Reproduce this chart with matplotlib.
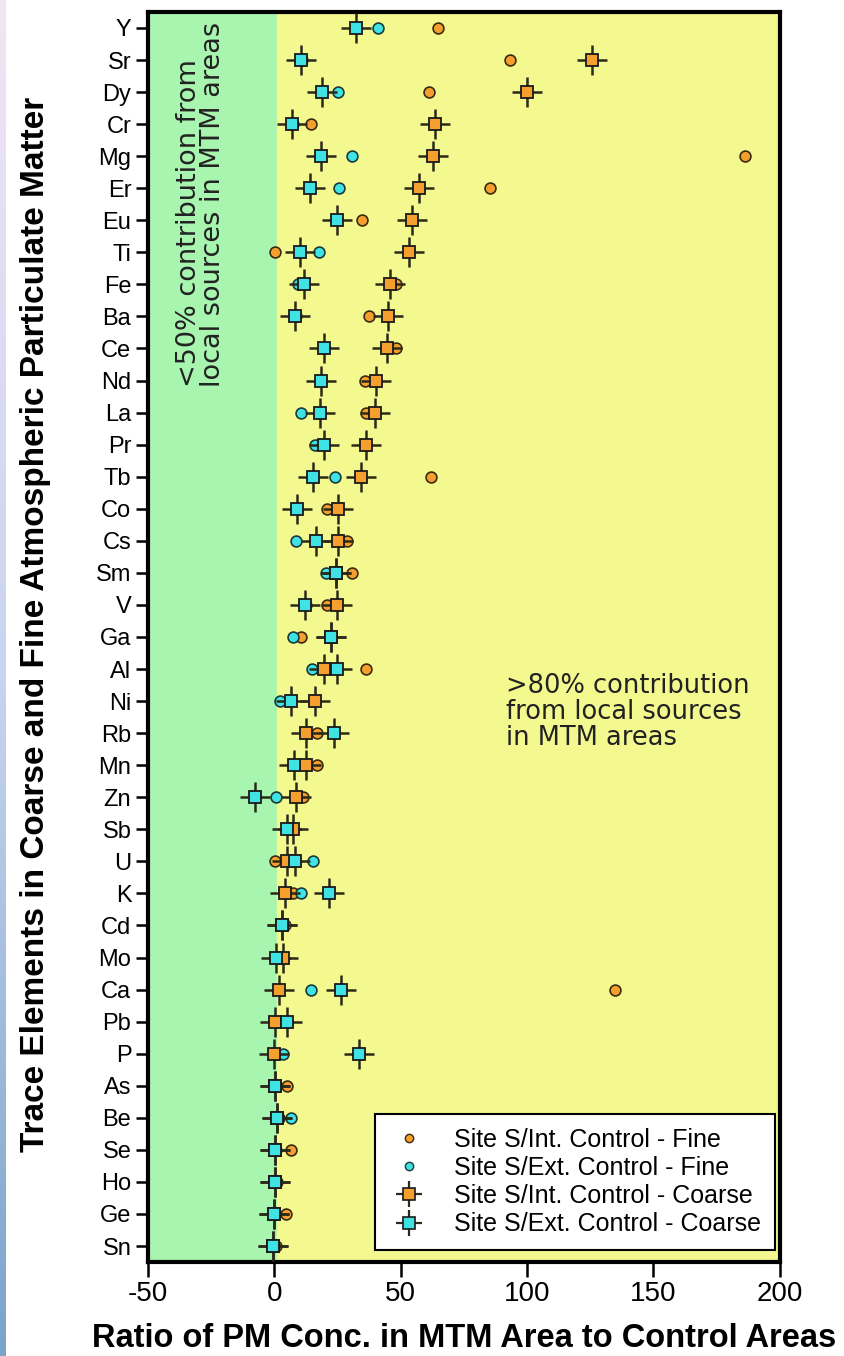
import numpy as np
import matplotlib.pyplot as plt
from matplotlib.lines import Line2D
from matplotlib.legend_handler import HandlerTuple
from matplotlib.colors import LinearSegmentedColormap

# Elements, top to bottom
elements = ["Y", "Sr", "Dy", "Cr", "Mg", "Er", "Eu", "Ti", "Fe", "Ba",
            "Ce", "Nd", "La", "Pr", "Tb", "Co", "Cs", "Sm", "V", "Ga",
            "Al", "Ni", "Rb", "Mn", "Zn", "Sb", "U", "K", "Cd", "Mo",
            "Ca", "Pb", "P", "As", "Be", "Se", "Ho", "Ge", "Sn"]

# Ratios (MTM area / control), fine fraction
int_fine = [64.7, 93.3, 61.1, 14.3, 186.2, 85.4, 34.5, 0.4, 48.0, 37.3,
            48.0, 35.7, 36.1, 36.0, 61.9, 21.0, 28.6, 30.6, 21.0, 10.7,
            36.1, 16.0, 16.7, 16.7, 11.5, 6.0, 0.4, 7.5, 4.0, 3.0,
            134.6, 1.0, 1.5, 4.8, 2.0, 6.4, 1.0, 4.4, 0.5]
ext_fine = [40.9, 11.0, 25.0, 7.5, 30.6, 25.4, 24.5, 17.5, 9.5, 8.5,
            19.5, 18.5, 10.7, 16.0, 23.8, 9.0, 8.7, 20.5, 12.5, 7.5,
            14.7, 2.4, 23.5, 8.0, 0.8, 5.0, 15.1, 10.7, 3.2, 1.0,
            14.3, 5.0, 3.6, 0.5, 6.7, 0.5, 0.5, 0.0, -0.3]

# Ratios, coarse fraction
int_coarse = [np.nan, 125.6, 100.0, 63.5, 62.7, 57.2, 54.4, 53.2, 45.7, 44.9,
              44.5, 40.1, 39.7, 36.1, 34.1, 25.0, 25.0, 24.2, 24.6, 22.2,
              19.5, 15.9, 12.7, 12.7, 8.7, 7.5, 4.8, 4.0, 3.2, 3.6,
              2.0, 0.4, 0.0, 0.4, 1.2, 0.4, 0.4, 0.0, -0.4]
ext_coarse = [32.2, 10.7, 18.7, 7.1, 18.3, 13.9, 24.6, 10.3, 11.9, 8.3,
              19.5, 18.3, 17.9, 19.5, 15.1, 9.1, 16.3, 24.2, 12.3, 22.2,
              24.6, 6.4, 23.4, 7.9, -7.5, 4.8, 8.3, 21.8, 3.2, 0.8,
              26.2, 4.8, 33.3, 0.4, 1.2, 0.4, 0.4, 0.0, -0.4]

labels = ["Site S/Int. Control - Fine", "Site S/Ext. Control - Fine",
          "Site S/Int. Control - Coarse", "Site S/Ext. Control - Coarse"]

orange = "#f5a02e"
cyan = "#3fe3e3"
cross = "#2a2a1a"

plt.rcParams["font.family"] = ["Liberation Sans", "DejaVu Sans"]
plt.rcParams["axes.unicode_minus"] = False

fig = plt.figure(figsize=(8.44, 13.56), dpi=100)
ax = fig.add_axes([0.1754, 0.0693, 0.7486, 0.9219])

y = np.arange(len(elements))[::-1]

# background zones
ax.axvspan(-50, 1, color="#a7f5ae", zorder=0)
ax.axvspan(1, 200, color="#f3f88f", zorder=0)

ax.plot(int_fine, y, "o", ms=7.8, mfc=orange, mec="#3a2a10", mew=1.2, ls="none", zorder=3)
ax.plot(ext_fine, y, "o", ms=7.8, mfc=cyan, mec="#1a3a3a", mew=1.2, ls="none", zorder=3)

for vals, col in [(int_coarse, orange), (ext_coarse, cyan)]:
    ax.plot(vals, y, "+", ms=21, mec=cross, mew=1.8, ls="none", zorder=4)
    ax.plot(vals, y, "s", ms=8.5, mfc=col, mec="#1a1a1a", mew=1.3, ls="none", zorder=5)

ax.set_xlim(-50, 200)
ax.set_ylim(-0.5, len(elements) - 0.5)
ax.set_xticks([-50, 0, 50, 100, 150, 200])
ax.set_yticks(y)
ax.set_yticklabels(elements)
ax.tick_params(axis="y", length=9, width=1.8, labelsize=17, pad=3)
ax.tick_params(axis="x", length=11, width=1.8, labelsize=20, pad=3)
for s in ax.spines.values():
    s.set_linewidth(3)

ax.set_xlabel("Ratio of PM Conc. in MTM Area to Control Areas",
              fontsize=23.5, fontweight="bold", labelpad=11)
ax.set_ylabel("Trace Elements in Coarse and Fine Atmospheric Particulate Matter",
              fontsize=24, fontweight="bold")
ax.yaxis.set_label_coords(-0.153, 0.51)

ax.text(-29, 38.2, "<50% contribution from\nlocal sources in MTM areas",
        rotation=90, ha="center", va="top", multialignment="left",
        fontsize=19.5, family="DejaVu Sans", color="#222222", linespacing=0.88)
ax.text(91.5, 16.66, ">80% contribution\nfrom local sources\nin MTM areas",
        ha="left", va="center", fontsize=18.5, family="DejaVu Sans",
        color="#222222", linespacing=1.02)

h_if = Line2D([], [], ls="none", marker="o", ms=6, mfc=orange, mec="#3a2a10", mew=1)
h_ef = Line2D([], [], ls="none", marker="o", ms=6, mfc=cyan, mec="#1a3a3a", mew=1)
h_ic = (Line2D([], [], ls="none", marker="+", ms=19, mec=cross, mew=1.6),
        Line2D([], [], ls="none", marker="s", ms=8, mfc=orange, mec="#1a1a1a", mew=1.2))
h_ec = (Line2D([], [], ls="none", marker="+", ms=19, mec=cross, mew=1.6),
        Line2D([], [], ls="none", marker="s", ms=8, mfc=cyan, mec="#1a1a1a", mew=1.2))
leg = ax.legend([h_if, h_ef, h_ic, h_ec], labels,
                handler_map={tuple: HandlerTuple(ndivide=1, pad=0)},
                loc="lower right", bbox_to_anchor=(0.992, 0.0096),
                fontsize=18, frameon=True, fancybox=False,
                framealpha=1, edgecolor="black", borderaxespad=0,
                handlelength=1.6, handletextpad=1.0, labelspacing=0.17,
                borderpad=0.55)
leg.get_frame().set_linewidth(1.5)
leg.set_zorder(10)

# thin coloured strip at the left edge
strip = fig.add_axes([0, 0, 0.006, 1])
strip.imshow(np.linspace(0, 1, 256).reshape(-1, 1), aspect="auto",
             cmap=LinearSegmentedColormap.from_list(
                 "edge", ["#f2e4f4", "#c8d4f0", "#7aa4c8"]))
strip.axis("off")

fig.savefig("out.png", dpi=100)
